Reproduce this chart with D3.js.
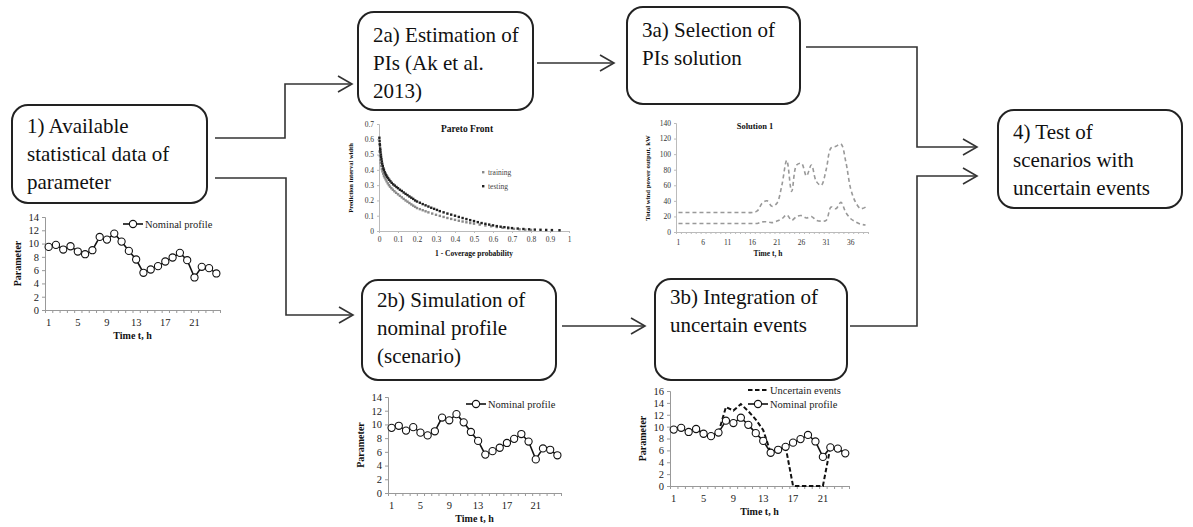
<!DOCTYPE html>
<html>
<head>
<meta charset="utf-8">
<script src="https://cdn.jsdelivr.net/npm/d3@7"></script>
<style>
  html, body { margin: 0; padding: 0; background: #fff; }
  svg { display: block; }
  svg text { font-family: 'Liberation Serif', 'Times New Roman', Times, 'DejaVu Serif', serif !important; }
</style>
</head>
<body>
<svg id="fig" width="1193" height="527"></svg>
<script>
// ---------- data ----------
const hours = [1,2,3,4,5,6,7,8,9,10,11,12,13,14,15,16,17,18,19,20,21,22,23,24];
const hourLabels = [1,5,9,13,17,21];
const paramTicks14 = [0,2,4,6,8,10,12,14];
const paramTicks16 = [0,2,4,6,8,10,12,14,16];
const nominalProfile = [9.5,9.8,9.1,9.6,8.8,8.4,9.0,11.0,10.6,11.5,10.3,8.9,7.6,5.6,6.1,6.6,7.3,7.9,8.6,7.5,4.9,6.5,6.3,5.5];
const uncertainEvents = [9.5,9.8,9.1,9.6,8.8,8.4,9.0,13.3,12.7,13.8,12.6,11.2,9.4,5.6,6.1,6.6,0,0,0,0,0,6.5,6.3,5.5];

const solutionHours = [1,2,3,4,5,6,7,8,9,10,11,12,13,14,15,16,17,18,19,20,21,22,23,24,25,26,27,28,29,30,31,32,33,34,35,36,37,38,39];
const solutionLabels = [1,6,11,16,21,26,31,36];
const powerTicks = [0,20,40,60,80,100,120,140];
const solutionUpper = [25,25,25,25,25,25,25,25,25,25,25,25,25,25,25,25,27,37,40,33,37,60,92,52,86,88,72,86,65,60,80,108,110,113,90,55,38,30,32];
const solutionLower = [11,11,11,11,11,11,11,11,11,11,11,11,11,11,11,11,11,13,13,12,14,17,22,15,20,21,18,20,15,14,15,32,30,38,25,17,13,10,9];

const coverageTicks = [0,0.1,0.2,0.3,0.4,0.5,0.6,0.7,0.8,0.9,1];
const widthTicks = [0,0.1,0.2,0.3,0.4,0.5,0.6,0.7];
// [1 - coverage probability, prediction interval width]
const paretoTesting = [[0.002,0.61],[0.003,0.59],[0.004,0.57],[0.005,0.56],[0.006,0.54],[0.007,0.53],[0.008,0.515],[0.01,0.50],[0.011,0.485],[0.013,0.47],[0.015,0.455],[0.017,0.44],[0.02,0.425],[0.023,0.41],[0.026,0.40],[0.03,0.385],[0.034,0.375],[0.038,0.365],[0.043,0.355],[0.048,0.345],[0.054,0.335],[0.06,0.325],[0.067,0.315],[0.075,0.305],[0.083,0.297],[0.092,0.288],[0.1,0.28],[0.11,0.27],[0.12,0.262],[0.13,0.252],[0.14,0.243],[0.15,0.235],[0.16,0.226],[0.17,0.218],[0.18,0.21],[0.19,0.2],[0.2,0.193],[0.215,0.185],[0.23,0.176],[0.245,0.168],[0.26,0.16],[0.275,0.152],[0.29,0.145],[0.305,0.138],[0.32,0.13],[0.34,0.122],[0.36,0.114],[0.38,0.107],[0.4,0.1],[0.42,0.092],[0.44,0.085],[0.46,0.078],[0.48,0.071],[0.5,0.065],[0.52,0.058],[0.54,0.052],[0.56,0.047],[0.58,0.042],[0.6,0.037],[0.62,0.032],[0.64,0.028],[0.66,0.025],[0.68,0.022],[0.7,0.019],[0.73,0.016],[0.76,0.013],[0.79,0.011],[0.82,0.009],[0.85,0.008],[0.88,0.007],[0.91,0.006],[0.95,0.005]];
const paretoTraining = [[0.003,0.52],[0.005,0.49],[0.007,0.465],[0.009,0.445],[0.012,0.425],[0.015,0.405],[0.018,0.39],[0.022,0.375],[0.026,0.36],[0.03,0.35],[0.035,0.338],[0.04,0.325],[0.046,0.312],[0.052,0.3],[0.058,0.29],[0.065,0.28],[0.073,0.27],[0.081,0.26],[0.09,0.25],[0.1,0.24],[0.11,0.23],[0.12,0.22],[0.13,0.21],[0.14,0.2],[0.15,0.192],[0.16,0.183],[0.17,0.174],[0.18,0.166],[0.19,0.158],[0.2,0.15],[0.215,0.143],[0.23,0.136],[0.245,0.129],[0.26,0.122],[0.28,0.114],[0.3,0.106],[0.32,0.099],[0.34,0.092],[0.36,0.085],[0.38,0.079],[0.4,0.073],[0.42,0.067],[0.44,0.062],[0.46,0.057],[0.48,0.052],[0.5,0.048],[0.53,0.042],[0.56,0.036],[0.59,0.031],[0.62,0.026],[0.65,0.021],[0.68,0.017],[0.71,0.014],[0.74,0.011],[0.77,0.009],[0.8,0.007]];

const stepBoxes = [
  { x: 12,  y: 105, w: 195, h: 98, lines: ["1) Available", "statistical data of", "parameter"], base: 133 },
  { x: 358, y: 12,  w: 175, h: 98, lines: ["2a) Estimation of", "PIs (Ak et al.", "2013)"], base: 42 },
  { x: 627, y: 7,   w: 173, h: 97, lines: ["3a) Selection of", "PIs solution"], base: 37 },
  { x: 998, y: 110, w: 184, h: 98, lines: ["4) Test of", "scenarios with", "uncertain events"], base: 139 },
  { x: 362, y: 280, w: 194, h: 100, lines: ["2b) Simulation of", "nominal profile", "(scenario)"], base: 307 },
  { x: 655, y: 279, w: 192, h: 101, lines: ["3b) Integration of", "uncertain events"], base: 304 }
];

// ---------- drawing ----------
const svg = d3.select("#fig");
const ink = "#222";

// process boxes
stepBoxes.forEach(b => {
  const g = svg.append("g");
  g.append("rect").attr("x", b.x).attr("y", b.y).attr("width", b.w).attr("height", b.h)
    .attr("rx", 16).attr("ry", 16).attr("fill", "#fff").attr("stroke", ink).attr("stroke-width", 2);
  g.selectAll("text").data(b.lines).join("text")
    .attr("x", b.x + 15).attr("y", (d, i) => b.base + i * 28)
    .attr("font-size", 21).attr("fill", "#111")
    .text(d => d);
});

// connectors with open arrowheads
function connector(pts) {
  svg.append("path").attr("d", d3.line()(pts)).attr("fill", "none")
    .attr("stroke", "#333").attr("stroke-width", 1.6);
  const [x, y] = pts[pts.length - 1];
  svg.append("path").attr("d", `M${x - 14},${y - 8}L${x},${y}L${x - 14},${y + 8}`)
    .attr("fill", "none").attr("stroke", "#333").attr("stroke-width", 1.6);
}
connector([[215,138],[285,138],[285,84],[352,84]]);
connector([[215,178],[286,178],[286,315],[353,315]]);
connector([[537,63],[614,63]]);
connector([[806,47],[917,47],[917,147],[977,147]]);
connector([[562,326],[645,326]]);
connector([[850,326],[917,326],[917,176],[977,176]]);

// Excel-style parameter profile chart
function profileChart(o) {
  const g = svg.append("g");
  const x = d3.scaleLinear().domain([0.5, hours.length + 0.5]).range([o.x0, o.x1]);
  const y = d3.scaleLinear().domain([0, o.ymax]).range([o.yb, o.yt]);

  const yAx = g.append("g").attr("transform", `translate(${o.x0},0)`)
    .call(d3.axisLeft(y).tickValues(o.yTicks).tickSize(3).tickPadding(3).tickFormat(d3.format("d")));
  yAx.select(".domain").attr("stroke", "#999");
  yAx.selectAll(".tick line").attr("stroke", "#999");
  yAx.selectAll("text").attr("font-size", 10.5).attr("fill", "#222");

  const bounds = hours.map(h => h - 0.5).concat([hours.length + 0.5]);
  const xAx = g.append("g").attr("transform", `translate(0,${o.yb})`)
    .call(d3.axisBottom(x).tickValues(bounds).tickSize(3).tickFormat(""));
  xAx.select(".domain").attr("stroke", "#999");
  xAx.selectAll(".tick line").attr("stroke", "#999");
  g.selectAll("text.xl").data(hourLabels).join("text").attr("class", "xl")
    .attr("x", d => x(d)).attr("y", o.yb + 16).attr("text-anchor", "middle")
    .attr("font-size", 10.5).attr("fill", "#222").text(d => d);

  g.append("text").attr("x", (o.x0 + o.x1) / 2).attr("y", o.yb + 29).attr("text-anchor", "middle")
    .attr("font-size", 10).attr("font-weight", "bold").attr("fill", "#111")
    .text("Time t, h");
  g.append("text").attr("transform", `translate(${o.x0 - 24},${(o.yb + o.yt) / 2}) rotate(-90)`)
    .attr("text-anchor", "middle").attr("font-size", 10)
    .attr("font-weight", "bold").attr("fill", "#111").text("Parameter");

  const line = d3.line().x((d, i) => x(hours[i])).y(d => y(d));
  if (o.events) {
    g.append("path").attr("d", line(uncertainEvents)).attr("fill", "none")
      .attr("stroke", "#111").attr("stroke-width", 2).attr("stroke-dasharray", "4.5,2.5");
  }
  g.append("path").attr("d", line(nominalProfile)).attr("fill", "none")
    .attr("stroke", "#111").attr("stroke-width", 1.6);
  g.selectAll("circle.pt").data(nominalProfile).join("circle").attr("class", "pt")
    .attr("cx", (d, i) => x(hours[i])).attr("cy", d => y(d)).attr("r", 3.6)
    .attr("fill", "#fff").attr("stroke", "#111").attr("stroke-width", 1.1);

  // legend
  let ly = o.yt + 7;
  const lx = o.x0 + 78;
  if (o.events) {
    ly = o.yt - 1;
    g.append("line").attr("x1", lx).attr("x2", lx + 20).attr("y1", ly).attr("y2", ly)
      .attr("stroke", "#111").attr("stroke-width", 2).attr("stroke-dasharray", "4.5,2.5");
    g.append("text").attr("x", lx + 22).attr("y", ly + 3.5)
      .attr("font-size", 10.5).attr("fill", "#222").text("Uncertain events");
    ly += 14;
  }
  g.append("line").attr("x1", lx).attr("x2", lx + 20).attr("y1", ly).attr("y2", ly)
    .attr("stroke", "#111").attr("stroke-width", 1.6);
  g.append("circle").attr("cx", lx + 10).attr("cy", ly).attr("r", 3.6)
    .attr("fill", "#fff").attr("stroke", "#111").attr("stroke-width", 1.1);
  g.append("text").attr("x", lx + 22).attr("y", ly + 3.5)
    .attr("font-size", 10.5).attr("fill", "#222").text("Nominal profile");
}

profileChart({ x0: 45,  x1: 220, yb: 310, yt: 217, ymax: 14, yTicks: paramTicks14 });
profileChart({ x0: 388, x1: 561, yb: 493, yt: 397, ymax: 14, yTicks: paramTicks14 });
profileChart({ x0: 670, x1: 849, yb: 486, yt: 391, ymax: 16, yTicks: paramTicks16, events: true });

// Pareto front of prediction intervals
(function () {
  const g = svg.append("g");
  const x = d3.scaleLinear().domain([0, 1]).range([379, 569]);
  const y = d3.scaleLinear().domain([0, 0.7]).range([231, 124]);
  const yAx = g.append("g").attr("transform", "translate(379,0)")
    .call(d3.axisLeft(y).tickValues(widthTicks).tickSize(2).tickPadding(3).tickFormat(d => d === 0 ? "0" : d3.format(".1f")(d)));
  const xAx = g.append("g").attr("transform", "translate(0,231)")
    .call(d3.axisBottom(x).tickValues(coverageTicks).tickSize(2).tickPadding(4).tickFormat(d => d === 0 ? "0" : d === 1 ? "1" : d3.format(".1f")(d)));
  [yAx, xAx].forEach(a => {
    a.select(".domain").attr("stroke", "#bbb");
    a.selectAll(".tick line").attr("stroke", "#bbb");
    a.selectAll("text").attr("font-size", 7.5).attr("fill", "#333");
  });
  g.append("text").attr("x", 467).attr("y", 132).attr("text-anchor", "middle")
    .attr("font-size", 9.5).attr("font-weight", "bold").attr("fill", "#111")
    .text("Pareto Front");
  g.append("text").attr("x", 474).attr("y", 256).attr("text-anchor", "middle")
    .attr("font-size", 7.5).attr("font-weight", "bold").attr("fill", "#111")
    .text("1 - Coverage probability");
  g.append("text").attr("transform", "translate(353,178) rotate(-90)").attr("text-anchor", "middle")
    .attr("font-size", 6.5).attr("font-weight", "bold").attr("fill", "#111")
    .text("Prediction interval width");

  g.selectAll("rect.tr").data(paretoTraining).join("rect").attr("class", "tr")
    .attr("x", d => x(d[0]) - 1.2).attr("y", d => y(d[1]) - 1.2).attr("width", 2.4).attr("height", 2.4)
    .attr("fill", "#8a8a8a");
  g.selectAll("rect.te").data(paretoTesting).join("rect").attr("class", "te")
    .attr("x", d => x(d[0]) - 1.2).attr("y", d => y(d[1]) - 1.2).attr("width", 2.4).attr("height", 2.4)
    .attr("fill", "#222");

  g.append("rect").attr("x", 482).attr("y", 171).attr("width", 2.4).attr("height", 2.4).attr("fill", "#8a8a8a");
  g.append("text").attr("x", 488).attr("y", 175).attr("font-size", 7.5)
    .attr("fill", "#444").text("training");
  g.append("rect").attr("x", 482).attr("y", 185).attr("width", 2.4).attr("height", 2.4).attr("fill", "#222");
  g.append("text").attr("x", 488).attr("y", 189).attr("font-size", 7.5)
    .attr("fill", "#444").text("testing");
})();

// selected prediction-interval solution
(function () {
  const g = svg.append("g");
  const x = d3.scaleLinear().domain([0.5, solutionHours.length + 0.5]).range([676, 868]);
  const y = d3.scaleLinear().domain([0, 140]).range([232, 123]);
  const yAx = g.append("g").attr("transform", "translate(676,0)")
    .call(d3.axisLeft(y).tickValues(powerTicks).tickSize(2).tickPadding(3));
  const bounds = solutionHours.map(h => h - 0.5).concat([solutionHours.length + 0.5]);
  const xAx = g.append("g").attr("transform", "translate(0,232)")
    .call(d3.axisBottom(x).tickValues(bounds).tickSize(2).tickFormat(""));
  [yAx, xAx].forEach(a => {
    a.select(".domain").attr("stroke", "#bbb");
    a.selectAll(".tick line").attr("stroke", "#bbb");
    a.selectAll("text").attr("font-size", 7.5).attr("fill", "#333");
  });
  g.selectAll("text.xl").data(solutionLabels).join("text").attr("class", "xl")
    .attr("x", d => x(d)).attr("y", 245).attr("text-anchor", "middle")
    .attr("font-size", 7.5).attr("fill", "#333").text(d => d);
  g.append("text").attr("x", 755).attr("y", 129).attr("text-anchor", "middle")
    .attr("font-size", 8.5).attr("font-weight", "bold").attr("fill", "#111")
    .text("Solution 1");
  g.append("text").attr("x", 768).attr("y", 256).attr("text-anchor", "middle")
    .attr("font-size", 7.5).attr("font-weight", "bold").attr("fill", "#111")
    .text("Time t, h");
  g.append("text").attr("transform", "translate(650,178) rotate(-90)").attr("text-anchor", "middle")
    .attr("font-size", 6.8).attr("font-weight", "bold").attr("fill", "#111")
    .text("Total wind power output, kW");

  const line = d3.line().curve(d3.curveCatmullRom.alpha(0.5)).x((d, i) => x(solutionHours[i])).y(d => y(d));
  [solutionUpper, solutionLower].forEach(s => {
    g.append("path").attr("d", line(s)).attr("fill", "none").attr("stroke", "#999")
      .attr("stroke-width", 1.6).attr("stroke-dasharray", "4,3");
  });
})();
</script>
</body>
</html>
